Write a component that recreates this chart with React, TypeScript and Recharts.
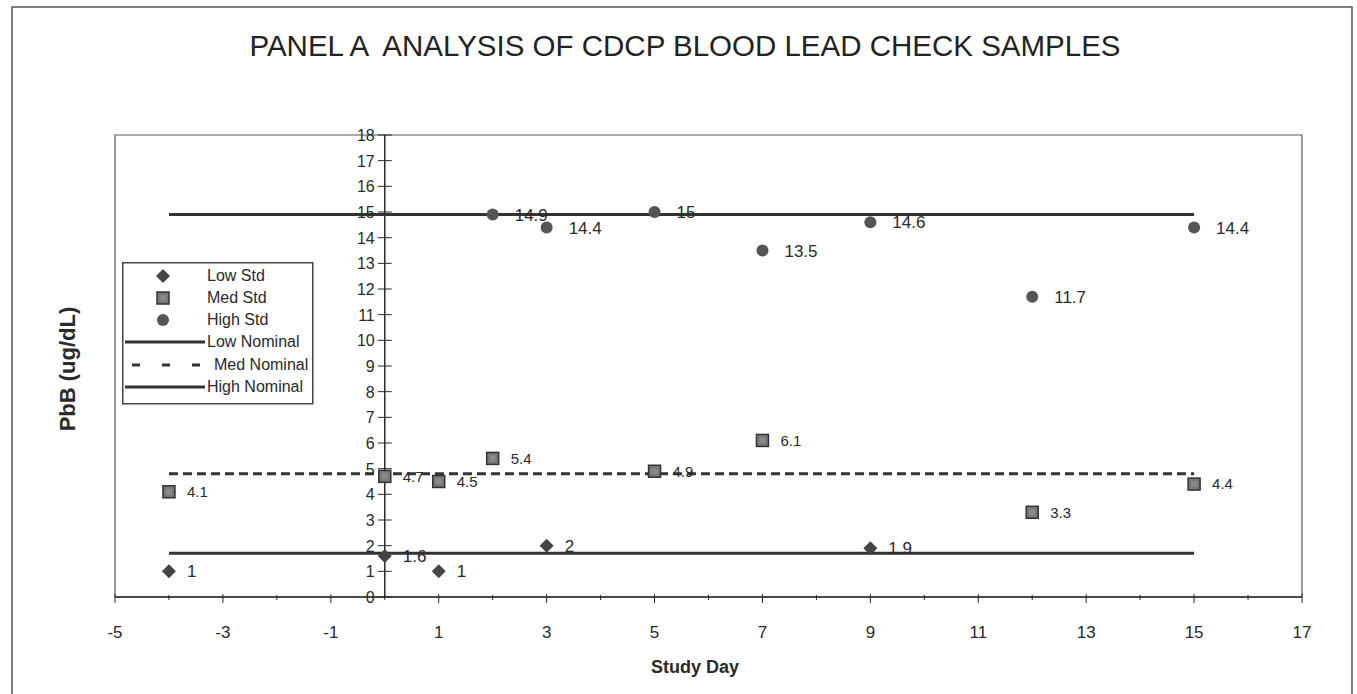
import React from 'react';
import { ComposedChart, Scatter, Line, XAxis, YAxis, ReferenceLine, ReferenceArea, LabelList, Label } from 'recharts';

const FONT = '"Liberation Sans", Arial, sans-serif';
const INK = '#2a2a2a';

const lowDays = [-4, 0, 1, 3, 9];
const lowValues = [1, 1.6, 1, 2, 1.9];
const medDays = [-4, 0, 1, 2, 5, 7, 12, 15];
const medValues = [4.1, 4.7, 4.5, 5.4, 4.9, 6.1, 3.3, 4.4];
const highDays = [2, 3, 5, 7, 9, 12, 15];
const highValues = [14.9, 14.4, 15, 13.5, 14.6, 11.7, 14.4];
const nominalDays = [-4, 15];
const lowNominal = [1.7, 1.7];
const medNominal = [4.8, 4.8];
const highNominal = [14.9, 14.9];

const xTicks = [-5, -4, -3, -2, -1, 0, 1, 2, 3, 4, 5, 6, 7, 8, 9, 10, 11, 12, 13, 14, 15, 16, 17];
const yTicks = [0, 1, 2, 3, 4, 5, 6, 7, 8, 9, 10, 11, 12, 13, 14, 15, 16, 17, 18];
const legendNames = ['Low Std', 'Med Std', 'High Std', 'Low Nominal', 'Med Nominal', 'High Nominal'];

const W = 1357;
const H = 694;
const Y_AXIS_W = 60;
const margin = { top: 135, right: 55, bottom: 67, left: 115 - Y_AXIS_W };
const PLOT_LEFT = margin.left + Y_AXIS_W;
const PLOT_W = W - PLOT_LEFT - margin.right;
const AXIS_Y = H - margin.bottom - 30;
const ZERO_X = PLOT_LEFT + (PLOT_W * 5) / 22;

const toPoints = (xs: number[], ys: number[]) => xs.map((x, i) => ({ x, y: ys[i] }));

const Diamond = ({ cx, cy }: any) => (
  <path d={`M${cx},${cy - 7}L${cx + 7},${cy}L${cx},${cy + 7}L${cx - 7},${cy}Z`} fill="#444" />
);
const Square = ({ cx, cy }: any) => (
  <g>
    <rect x={cx - 6} y={cy - 6} width={12} height={12} fill="#777" stroke="#333" strokeWidth={1.5} />
    <rect x={cx - 3} y={cy - 3} width={6} height={6} fill="#8a8a8a" />
  </g>
);
const Dot = ({ cx, cy }: any) => <circle cx={cx} cy={cy} r={6} fill="#555" />;

const pointLabel = (size: number, gap: number) => (props: any) => {
  const { x, y, width, height, value } = props;
  const cx = Number(x) + (Number(width) || 0) / 2;
  const cy = Number(y) + (Number(height) || 0) / 2;
  return (
    <text x={cx + gap} y={cy} dy={size * 0.36} fontSize={size} fill={INK} fontFamily={FONT}>
      {value}
    </text>
  );
};

const XTick = ({ x, payload }: any) => {
  const odd = Math.abs(payload.value % 2) === 1;
  return (
    <g>
      <line x1={x} x2={x} y1={AXIS_Y - (odd ? 3 : 2)} y2={AXIS_Y + (odd ? 6 : 3)} stroke={INK} />
      {odd && (
        <text x={x} y={AXIS_Y + 41} textAnchor="middle" fontSize={17} fill={INK} fontFamily={FONT}>
          {payload.value}
        </text>
      )}
    </g>
  );
};

const YTick = ({ y, payload }: any) => (
  <g>
    <line x1={ZERO_X - 7} x2={ZERO_X + 7} y1={y} y2={y} stroke={INK} />
    <text x={ZERO_X - 10} y={y} dy={6} textAnchor="end" fontSize={16} fill={INK} fontFamily={FONT}>
      {payload.value}
    </text>
  </g>
);

function LegendBox() {
  const rowY = [14, 36, 58, 80, 103, 125];
  return (
    <svg width={192} height={143} style={{ position: 'absolute', left: 122, top: 262 }}>
      <rect x={0.75} y={0.75} width={190} height={141} fill="#fff" stroke="#444" strokeWidth={1.5} />
      <Diamond cx={41} cy={rowY[0]} />
      <Square cx={41} cy={rowY[1]} />
      <Dot cx={41} cy={rowY[2]} />
      <line x1={3} x2={83} y1={rowY[3]} y2={rowY[3]} stroke="#333" strokeWidth={3} />
      <line x1={10} x2={90} y1={rowY[4]} y2={rowY[4]} stroke="#333" strokeWidth={3} strokeDasharray="8 22" />
      <line x1={3} x2={83} y1={rowY[5]} y2={rowY[5]} stroke="#333" strokeWidth={3} />
      {legendNames.map((name, i) => (
        <text key={name} x={i === 4 ? 92 : 85} y={rowY[i] + 5} fontSize={16} fill={INK} fontFamily={FONT}>
          {name}
        </text>
      ))}
    </svg>
  );
}

export default function App() {
  return (
    <div style={{ position: 'absolute', left: 0, top: 0, width: W, height: H, background: '#fff', fontFamily: FONT }}>
      <svg width={W} height={H} style={{ position: 'absolute', left: 0, top: 0 }}>
        <rect x={12} y={7} width={1340} height={700} fill="none" stroke="#555" strokeWidth={1.5} />
        <text x={685} y={56} textAnchor="middle" fontSize={29.5} fill="#222" fontFamily={FONT} style={{ whiteSpace: 'pre' }}>
          {'PANEL A  ANALYSIS OF CDCP BLOOD LEAD CHECK SAMPLES'}
        </text>
      </svg>
      <div style={{ position: 'absolute', left: 0, top: 0 }}>
        <ComposedChart width={W} height={H} margin={margin}>
          <XAxis
            type="number"
            dataKey="x"
            domain={[-5, 17]}
            ticks={xTicks}
            interval={0}
            height={30}
            axisLine={{ stroke: INK, strokeWidth: 1.5 }}
            tickLine={false}
            tick={<XTick />}
          >
            <Label
              content={() => (
                <text x={695} y={673} textAnchor="middle" fontSize={18} fontWeight="bold" fill={INK} fontFamily={FONT}>
                  Study Day
                </text>
              )}
            />
          </XAxis>
          <YAxis
            type="number"
            domain={[0, 18]}
            ticks={yTicks}
            interval={0}
            width={Y_AXIS_W}
            axisLine={false}
            tickLine={false}
            tick={<YTick />}
          >
            <Label
              content={() => (
                <text
                  x={75}
                  y={369}
                  transform="rotate(-90 75 369)"
                  textAnchor="middle"
                  fontSize={22}
                  fontWeight="bold"
                  fill={INK}
                  fontFamily={FONT}
                >
                  PbB (ug/dL)
                </text>
              )}
            />
          </YAxis>
          <ReferenceArea x1={-5} x2={17} y1={0} y2={18} fill="none" stroke="#555" strokeWidth={1.2} ifOverflow="visible" />
          <ReferenceLine x={0} stroke={INK} strokeWidth={1.5} />
          <Line data={toPoints(nominalDays, lowNominal)} dataKey="y" stroke="#333" strokeWidth={3} dot={false} isAnimationActive={false} />
          <Line
            data={toPoints(nominalDays, medNominal)}
            dataKey="y"
            stroke="#333"
            strokeWidth={3}
            strokeDasharray="9 5"
            dot={false}
            isAnimationActive={false}
          />
          <Line data={toPoints(nominalDays, highNominal)} dataKey="y" stroke="#333" strokeWidth={3} dot={false} isAnimationActive={false} />
          <Scatter data={toPoints(lowDays, lowValues)} dataKey="y" shape={Diamond} isAnimationActive={false}>
            <LabelList dataKey="y" content={pointLabel(17, 18)} />
          </Scatter>
          <Scatter data={toPoints(medDays, medValues)} dataKey="y" shape={Square} isAnimationActive={false}>
            <LabelList dataKey="y" content={pointLabel(15, 18)} />
          </Scatter>
          <Scatter data={toPoints(highDays, highValues)} dataKey="y" shape={Dot} isAnimationActive={false}>
            <LabelList dataKey="y" content={pointLabel(17, 22)} />
          </Scatter>
        </ComposedChart>
      </div>
      <LegendBox />
    </div>
  );
}
